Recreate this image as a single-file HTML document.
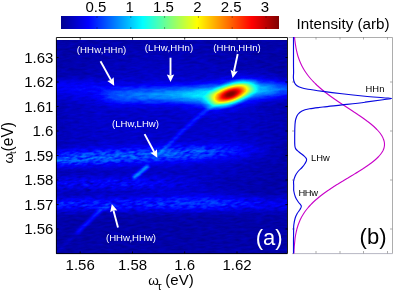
<!DOCTYPE html>
<html><head><meta charset="utf-8">
<style>
html,body{margin:0;padding:0;background:#fff;}
svg{display:block;font-family:"Liberation Sans",sans-serif;}
</style></head><body>
<svg width="394" height="296" viewBox="0 0 394 296">
<defs>
<filter id="jet" filterUnits="userSpaceOnUse" x="56" y="40" width="231" height="214" color-interpolation-filters="sRGB">
<feComponentTransfer>
<feFuncR type="table" tableValues="0 0 0 0 0.5 1 1 1 0.5"/>
<feFuncG type="table" tableValues="0 0 0.5 1 1 1 0.5 0 0"/>
<feFuncB type="table" tableValues="0.5 1 1 1 0.5 0 0 0 0"/>
</feComponentTransfer>
</filter>
<filter id="b1" x="-50%" y="-200%" width="200%" height="500%" color-interpolation-filters="sRGB"><feGaussianBlur stdDeviation="12 4"/></filter>
<filter id="b2" x="-50%" y="-200%" width="200%" height="500%" color-interpolation-filters="sRGB"><feGaussianBlur stdDeviation="20 6"/></filter>
<filter id="b3" x="-50%" y="-50%" width="200%" height="200%" color-interpolation-filters="sRGB"><feGaussianBlur stdDeviation="1.6"/></filter>
<filter id="b4" x="-50%" y="-50%" width="200%" height="200%" color-interpolation-filters="sRGB"><feGaussianBlur stdDeviation="25 18"/></filter>
<linearGradient id="gA" x1="20" x2="115" gradientUnits="userSpaceOnUse"><stop offset="0" stop-color="#fff" stop-opacity="0.085"/><stop offset="0.7" stop-color="#fff" stop-opacity="0.08"/><stop offset="1" stop-color="#fff" stop-opacity="0"/></linearGradient>
<linearGradient id="gB" x1="70" x2="330" gradientUnits="userSpaceOnUse"><stop offset="0.1" stop-color="#fff" stop-opacity="0.000"/><stop offset="0.16" stop-color="#fff" stop-opacity="0.157"/><stop offset="0.24" stop-color="#fff" stop-opacity="0.202"/><stop offset="0.33" stop-color="#fff" stop-opacity="0.235"/><stop offset="0.5" stop-color="#fff" stop-opacity="0.347"/><stop offset="0.58" stop-color="#fff" stop-opacity="0.347"/><stop offset="0.62" stop-color="#fff" stop-opacity="0.000"/></linearGradient>
<linearGradient id="gB2" x1="70" x2="330" gradientUnits="userSpaceOnUse"><stop offset="0.6" stop-color="#fff" stop-opacity="0"/><stop offset="0.66" stop-color="#fff" stop-opacity="0.3"/><stop offset="0.75" stop-color="#fff" stop-opacity="0.30"/><stop offset="0.84" stop-color="#fff" stop-opacity="0.2"/><stop offset="1" stop-color="#fff" stop-opacity="0.12"/></linearGradient>
<linearGradient id="gC" x1="20" x2="270" gradientUnits="userSpaceOnUse"><stop offset="0" stop-color="#fff" stop-opacity="0.238"/><stop offset="0.3" stop-color="#fff" stop-opacity="0.238"/><stop offset="0.5" stop-color="#fff" stop-opacity="0.196"/><stop offset="0.7" stop-color="#fff" stop-opacity="0.224"/><stop offset="0.85" stop-color="#fff" stop-opacity="0.098"/><stop offset="1" stop-color="#fff" stop-opacity="0.000"/></linearGradient>
<linearGradient id="gD" x1="20" x2="220" gradientUnits="userSpaceOnUse"><stop offset="0" stop-color="#fff" stop-opacity="0.154"/><stop offset="0.6" stop-color="#fff" stop-opacity="0.140"/><stop offset="1" stop-color="#fff" stop-opacity="0.000"/></linearGradient>
<linearGradient id="gE" x1="20" x2="320" gradientUnits="userSpaceOnUse"><stop offset="0" stop-color="#fff" stop-opacity="0.196"/><stop offset="0.6" stop-color="#fff" stop-opacity="0.168"/><stop offset="1" stop-color="#fff" stop-opacity="0.070"/></linearGradient>
<filter id="b6" x="-50%" y="-300%" width="200%" height="700%" color-interpolation-filters="sRGB"><feGaussianBlur stdDeviation="12 4.5"/></filter>
<filter id="nz2" filterUnits="userSpaceOnUse" x="-200" y="40" width="900" height="214" color-interpolation-filters="sRGB">
<feTurbulence type="fractalNoise" baseFrequency="0.12 0.45" numOctaves="2" seed="7" result="t"/>
<feColorMatrix in="t" type="matrix" values="1.6 0 0 0 -0.3  1.6 0 0 0 -0.3  1.6 0 0 0 -0.3  0 0 0 0 1"/>
</filter>
<filter id="nz3" filterUnits="userSpaceOnUse" x="-200" y="40" width="900" height="214" color-interpolation-filters="sRGB">
<feTurbulence type="fractalNoise" baseFrequency="0.16 0.4" numOctaves="2" seed="3" result="t"/>
<feColorMatrix in="t" type="matrix" values="2 0 0 0 -0.3  2 0 0 0 -0.3  2 0 0 0 -0.3  0 0 0 0 1"/>
</filter>
<mask id="tex" maskUnits="userSpaceOnUse" x="56" y="40" width="231" height="214"><g transform="skewX(-40)"><rect x="-200" y="40" width="900" height="214" filter="url(#nz3)"/></g></mask>
<filter id="b5" x="-50%" y="-200%" width="200%" height="500%" color-interpolation-filters="sRGB"><feGaussianBlur stdDeviation="6 4.9"/></filter>
<radialGradient id="hot">
<stop offset="0.00" stop-color="#fff" stop-opacity="1.000"/>
<stop offset="0.05" stop-color="#fff" stop-opacity="1.000"/>
<stop offset="0.10" stop-color="#fff" stop-opacity="0.991"/>
<stop offset="0.15" stop-color="#fff" stop-opacity="0.957"/>
<stop offset="0.20" stop-color="#fff" stop-opacity="0.910"/>
<stop offset="0.25" stop-color="#fff" stop-opacity="0.853"/>
<stop offset="0.30" stop-color="#fff" stop-opacity="0.787"/>
<stop offset="0.35" stop-color="#fff" stop-opacity="0.716"/>
<stop offset="0.40" stop-color="#fff" stop-opacity="0.641"/>
<stop offset="0.45" stop-color="#fff" stop-opacity="0.565"/>
<stop offset="0.50" stop-color="#fff" stop-opacity="0.489"/>
<stop offset="0.55" stop-color="#fff" stop-opacity="0.415"/>
<stop offset="0.60" stop-color="#fff" stop-opacity="0.346"/>
<stop offset="0.65" stop-color="#fff" stop-opacity="0.281"/>
<stop offset="0.70" stop-color="#fff" stop-opacity="0.222"/>
<stop offset="0.75" stop-color="#fff" stop-opacity="0.170"/>
<stop offset="0.80" stop-color="#fff" stop-opacity="0.124"/>
<stop offset="0.85" stop-color="#fff" stop-opacity="0.084"/>
<stop offset="0.90" stop-color="#fff" stop-opacity="0.051"/>
<stop offset="0.95" stop-color="#fff" stop-opacity="0.023"/>
<stop offset="1.00" stop-color="#fff" stop-opacity="0.000"/>
</radialGradient>
<linearGradient id="cb" x1="0" x2="1" y1="0" y2="0">
<stop offset="0" stop-color="#00008f"/>
<stop offset="0.125" stop-color="#0000ff"/>
<stop offset="0.375" stop-color="#00ffff"/>
<stop offset="0.625" stop-color="#ffff00"/>
<stop offset="0.875" stop-color="#ff0000"/>
<stop offset="1" stop-color="#800000"/>
</linearGradient>
</defs>
<rect width="394" height="296" fill="#fff"/>
<g opacity="0.999">

<!-- colorbar -->
<rect x="61" y="16" width="218" height="13" fill="url(#cb)"/>
<g stroke="#000" stroke-width="0.6" fill="none" opacity="0.6"><path d="M97.0 16v2M97.0 29v-2"/>
<path d="M130.8 16v2M130.8 29v-2"/>
<path d="M164.6 16v2M164.6 29v-2"/>
<path d="M198.4 16v2M198.4 29v-2"/>
<path d="M232.2 16v2M232.2 29v-2"/>
<path d="M266.0 16v2M266.0 29v-2"/></g>
<g font-size="15" fill="#000"><text x="95.9" y="12.4" text-anchor="middle">0.5</text>
<text x="129.7" y="12.4" text-anchor="middle">1</text>
<text x="163.5" y="12.4" text-anchor="middle">1.5</text>
<text x="197.3" y="12.4" text-anchor="middle">2</text>
<text x="231.1" y="12.4" text-anchor="middle">2.5</text>
<text x="264.9" y="12.4" text-anchor="middle">3</text></g>

<!-- heatmap -->
<g filter="url(#jet)">
<rect x="56" y="40" width="231" height="214" fill="rgb(6,6,6)"/>
<!-- broad glow -->
<ellipse cx="165" cy="125" rx="110" ry="70" fill="#fff" opacity="0.03" filter="url(#b4)"/>
<ellipse cx="180" cy="92" rx="120" ry="8" fill="#fff" opacity="0.05" filter="url(#b2)"/>
<!-- main band -->
<rect x="20" y="81" width="95" height="11" fill="url(#gA)" filter="url(#b1)"/>
<rect x="20" y="95" width="85" height="6" fill="url(#gA)" opacity="0.5" filter="url(#b1)"/>
<g transform="rotate(-1 160 95.4)"><rect x="70" y="90.2" width="260" height="10.4" fill="url(#gB)" filter="url(#b5)"/></g>
<g transform="rotate(-1 265 89.5)"><rect x="70" y="84.5" width="260" height="10" fill="url(#gB2)" filter="url(#b5)"/></g>
<!-- lower bands -->
<g transform="rotate(-2.6 150 155)"><rect x="20" y="147" width="240" height="16" fill="#fff" opacity="0.045" filter="url(#b2)"/></g>
<rect x="20" y="197" width="300" height="14" fill="#fff" opacity="0.03" filter="url(#b2)"/>
<g mask="url(#tex)">
<g transform="rotate(-2.6 150 155)"><rect x="20" y="150" width="250" height="10" fill="url(#gC)" filter="url(#b6)"/></g>
<rect x="20" y="179" width="200" height="9" fill="url(#gD)" filter="url(#b6)"/>
<rect x="20" y="200" width="300" height="8" fill="url(#gE)" filter="url(#b6)"/>
</g>
<ellipse cx="200" cy="200" rx="45" ry="8" fill="#fff" opacity="0.05" filter="url(#b2)"/>
<!-- diagonal -->
<g filter="url(#b3)" stroke="#fff" fill="none" stroke-linecap="round">
<path d="M57 252.5L100 211" stroke-width="2.5" opacity="0.035"/>
<path d="M78 232L100 210.5Q103 207.5 108 207" stroke-width="3" opacity="0.13"/>
<path d="M134 177.5L147.5 166.5" stroke-width="3" opacity="0.27"/>
<path d="M159 154L188 126Q205 110 221 101" stroke-width="3" opacity="0.13"/>
</g>
<g transform="skewX(-35)" opacity="0.045"><rect x="-200" y="40" width="900" height="214" filter="url(#nz2)"/></g>
<!-- hot spot -->
<g transform="translate(230 93.5) rotate(-14) scale(60 24)" opacity="0.12"><circle r="1" fill="url(#hot)"/></g>
<g transform="translate(230.6 94.1) rotate(-20) scale(32 13.6)"><circle r="1" fill="url(#hot)"/></g>
</g>

<!-- heatmap axes -->
<g stroke="#000" stroke-width="0.8" fill="none">
<path d="M56.4 253.6V37.5H287.5V253.6z" stroke-width="0.9"/>
<path d="M56 229.0h2.6M288 229.0h-2.6"/>
<path d="M56 204.5h2.6M288 204.5h-2.6"/>
<path d="M56 180.0h2.6M288 180.0h-2.6"/>
<path d="M56 155.5h2.6M288 155.5h-2.6"/>
<path d="M56 131.0h2.6M288 131.0h-2.6"/>
<path d="M56 106.5h2.6M288 106.5h-2.6"/>
<path d="M56 82.0h2.6M288 82.0h-2.6"/>
<path d="M56 57.5h2.6M288 57.5h-2.6"/>
<path d="M80.2 254v-2.6M80.2 37v2.6"/>
<path d="M132.5 254v-2.6M132.5 37v2.6"/>
<path d="M184.7 254v-2.6M184.7 37v2.6"/>
<path d="M237.0 254v-2.6M237.0 37v2.6"/>
</g>
<g font-size="15" fill="#000">
<text x="53.4" y="234.2" text-anchor="end">1.56</text>
<text x="53.4" y="209.7" text-anchor="end">1.57</text>
<text x="53.4" y="185.2" text-anchor="end">1.58</text>
<text x="53.4" y="160.7" text-anchor="end">1.59</text>
<text x="53.4" y="136.2" text-anchor="end">1.6</text>
<text x="53.4" y="111.7" text-anchor="end">1.61</text>
<text x="53.4" y="87.2" text-anchor="end">1.62</text>
<text x="53.4" y="62.7" text-anchor="end">1.63</text>
<text x="80.2" y="270.2" text-anchor="middle">1.56</text>
<text x="132.5" y="270.2" text-anchor="middle">1.58</text>
<text x="184.7" y="270.2" text-anchor="middle">1.6</text>
<text x="237.0" y="270.2" text-anchor="middle">1.62</text>
</g>
<text y="285.3" font-size="15"><tspan x="148.3" font-size="13.5">ω</tspan><tspan x="157.2" dy="5" font-size="11">τ</tspan><tspan x="165.3" dy="-5">(eV)</tspan></text>
<text transform="translate(12.6 163.6) rotate(-90)" font-size="15.6"><tspan x="0" font-size="13.5">ω</tspan><tspan x="9.6" dy="3.4" font-size="9.5">t</tspan><tspan x="12.2" dy="-3.4">(eV)</tspan></text>

<!-- annotations -->
<g font-size="9.6" fill="#fff" text-anchor="middle">
<text x="101.5" y="52.6" textLength="49.6">(HHw,HHn)</text>
<text x="169" y="50.7" textLength="48.6">(LHw,HHn)</text>
<text x="237" y="50.6">(HHn,HHn)</text>
<text x="135.5" y="127.2">(LHw,LHw)</text>
<text x="131" y="241">(HHw,HHw)</text>
</g>
<path d="M100.5 61.3L111.0 80.1" stroke="#fff" stroke-width="1.9" fill="none"/><path d="M114.2 85.7L107.3 80.9L111.0 80.1L113.7 77.3z" fill="#fff"/>
<path d="M170.5 57.7L170.5 75.5" stroke="#fff" stroke-width="1.9" fill="none"/><path d="M170.5 82.0L166.8 74.4L170.5 75.5L174.2 74.4z" fill="#fff"/>
<path d="M237.7 54.0L233.9 71.7" stroke="#fff" stroke-width="1.9" fill="none"/><path d="M232.6 78.0L230.6 69.8L233.9 71.7L237.8 71.3z" fill="#fff"/>
<path d="M144.6 134.1L154.2 152.0" stroke="#fff" stroke-width="1.9" fill="none"/><path d="M157.3 157.7L150.4 152.8L154.2 152.0L157.0 149.3z" fill="#fff"/>
<path d="M118.0 227.5L113.4 210.2" stroke="#fff" stroke-width="1.9" fill="none"/><path d="M111.8 204.0L117.3 210.4L113.4 210.2L110.2 212.3z" fill="#fff"/>
<text x="255.8" y="245.4" font-size="22" fill="#fff">(a)</text>

<!-- right panel -->
<g stroke="#8a8a8a" stroke-width="0.7" fill="none">
<path d="M288.5 37.5H392.5V253.5"/>
<path d="M292 253.6H392.5" stroke="#99a"/>
<path d="M316 37v2.5M316 253.5v-2.5"/>
<path d="M340 37v2.5M340 253.5v-2.5"/>
<path d="M363.5 37v2.5M363.5 253.5v-2.5"/>
<path d="M387.5 37v2.5M387.5 253.5v-2.5"/>
<path d="M292 229.0h2.5M392.5 229.0h-2.5"/>
<path d="M292 180.0h2.5M392.5 180.0h-2.5"/>
<path d="M292 131.0h2.5M392.5 131.0h-2.5"/>
<path d="M292 82.0h2.5M392.5 82.0h-2.5"/>
</g>
<path d="M294.6 37.0 C294.6 37.5 294.7 39.0 294.8 40.0 C295.0 41.0 295.1 42.0 295.2 43.0 C295.3 44.0 295.5 45.0 295.7 46.0 C295.8 47.0 296.0 48.0 296.2 49.0 C296.4 50.0 296.6 51.0 296.9 52.0 C297.1 53.0 297.4 54.0 297.6 55.0 C297.9 56.0 298.2 57.0 298.6 58.0 C298.9 59.0 299.3 60.0 299.7 61.0 C300.1 62.0 300.5 63.0 301.0 64.0 C301.4 65.0 301.9 66.0 302.5 67.0 C303.0 68.0 303.6 69.0 304.2 70.0 C304.8 71.0 305.5 72.0 306.2 73.0 C306.9 74.0 307.6 75.0 308.4 76.0 C309.2 77.0 310.0 78.0 310.9 79.0 C311.8 80.0 312.7 81.0 313.7 82.0 C314.6 83.0 315.7 84.0 316.7 85.0 C317.8 86.0 318.9 87.0 320.1 88.0 C321.2 89.0 322.4 90.0 323.7 91.0 C324.9 92.0 326.2 93.0 327.5 94.0 C328.8 95.0 330.2 96.0 331.6 97.0 C333.0 98.0 334.4 99.0 335.9 100.0 C337.3 101.0 338.8 102.0 340.3 103.0 C341.8 104.0 343.3 105.0 344.9 106.0 C346.4 107.0 347.9 108.0 349.5 109.0 C351.0 110.0 352.5 111.0 354.0 112.0 C355.6 113.0 357.1 114.0 358.5 115.0 C360.0 116.0 361.5 117.0 362.9 118.0 C364.3 119.0 365.7 120.0 367.0 121.0 C368.4 122.0 369.7 123.0 370.9 124.0 C372.1 125.0 373.3 126.0 374.4 127.0 C375.4 128.0 376.5 129.0 377.4 130.0 C378.3 131.0 379.2 132.0 380.0 133.0 C380.7 134.0 381.4 135.0 382.0 136.0 C382.6 137.0 383.1 138.0 383.4 139.0 C383.8 140.0 384.1 141.0 384.3 142.0 C384.5 143.0 384.5 144.0 384.5 145.0 C384.4 146.0 384.3 147.0 384.0 148.0 C383.7 149.0 383.3 150.0 382.8 151.0 C382.2 152.0 381.6 153.0 380.8 154.0 C380.0 155.0 379.2 156.0 378.2 157.0 C377.2 158.0 376.2 159.0 375.0 160.0 C373.8 161.0 372.6 162.0 371.3 163.0 C370.0 164.0 368.5 165.0 367.1 166.0 C365.7 167.0 364.1 168.0 362.6 169.0 C361.0 170.0 359.4 171.0 357.8 172.0 C356.2 173.0 354.5 174.0 352.9 175.0 C351.2 176.0 349.5 177.0 347.9 178.0 C346.2 179.0 344.5 180.0 342.9 181.0 C341.2 182.0 339.6 183.0 338.0 184.0 C336.3 185.0 334.8 186.0 333.2 187.0 C331.7 188.0 330.1 189.0 328.7 190.0 C327.2 191.0 325.8 192.0 324.4 193.0 C323.0 194.0 321.7 195.0 320.4 196.0 C319.2 197.0 317.9 198.0 316.8 199.0 C315.6 200.0 314.5 201.0 313.4 202.0 C312.4 203.0 311.4 204.0 310.5 205.0 C309.5 206.0 308.6 207.0 307.8 208.0 C307.0 209.0 306.2 210.0 305.4 211.0 C304.7 212.0 304.0 213.0 303.4 214.0 C302.8 215.0 302.2 216.0 301.6 217.0 C301.1 218.0 300.6 219.0 300.1 220.0 C299.7 221.0 299.3 222.0 298.9 223.0 C298.5 224.0 298.1 225.0 297.8 226.0 C297.5 227.0 297.2 228.0 296.9 229.0 C296.7 230.0 296.4 231.0 296.2 232.0 C296.0 233.0 295.8 234.0 295.6 235.0 C295.4 236.0 295.3 237.0 295.1 238.0 C295.0 239.0 294.9 240.0 294.8 241.0 C294.7 242.0 294.6 243.0 294.5 244.0 C294.4 245.0 294.3 246.0 294.2 247.0 C294.2 248.0 294.1 249.0 294.0 250.0 C294.0 251.0 294.0 252.4 293.9 253.0 C293.8 253.6 293.6 253.4 293.5 253.5" stroke="#c800c8" stroke-width="1.1" fill="none"/>
<path d="M293.5 37.0 C293.5 39.2 293.5 45.5 293.5 50.0 C293.5 54.5 293.5 60.3 293.5 64.0 C293.5 67.7 293.6 69.7 293.6 72.0 C293.6 74.3 293.3 76.2 293.4 78.0 C293.5 79.8 293.8 81.3 294.4 82.6 C295.0 83.9 295.8 84.9 297.0 85.8 C298.2 86.7 299.7 87.2 301.5 87.8 C303.3 88.4 304.4 88.6 308.0 89.2 C311.6 89.8 317.3 90.6 323.0 91.4 C328.7 92.2 335.0 93.0 342.0 93.8 C349.0 94.6 358.2 95.5 365.0 96.2 C371.8 96.9 378.6 97.3 383.0 97.7 C387.4 98.1 391.5 98.1 391.5 98.4 C391.5 98.7 387.4 99.1 383.0 99.7 C378.6 100.3 371.8 101.3 365.0 102.2 C358.2 103.1 349.0 104.1 342.0 104.9 C335.0 105.7 328.4 106.3 323.0 107.0 C317.6 107.7 313.1 108.1 309.6 108.8 C306.1 109.5 304.0 110.0 302.0 111.0 C300.0 112.0 298.8 113.2 297.8 114.5 C296.8 115.8 296.3 117.4 295.8 119.0 C295.3 120.6 295.2 121.5 295.0 124.3 C294.8 127.1 294.7 132.6 294.7 136.0 C294.7 139.4 294.6 142.9 294.8 145.0 C295.0 147.1 294.9 147.4 295.6 148.6 C296.3 149.8 297.7 150.8 299.0 152.0 C300.3 153.2 302.2 154.3 303.5 155.5 C304.8 156.7 306.4 158.0 306.6 159.3 C306.9 160.6 305.8 162.1 305.0 163.5 C304.2 164.9 303.2 166.2 302.0 167.5 C300.8 168.8 299.1 170.1 298.0 171.5 C296.9 172.9 295.9 174.4 295.2 176.0 C294.5 177.6 293.9 179.3 293.6 181.0 C293.4 182.7 293.7 184.3 293.7 186.0 C293.7 187.7 293.5 189.2 293.8 191.0 C294.1 192.8 294.6 195.2 295.4 197.0 C296.1 198.8 297.3 200.5 298.3 202.0 C299.3 203.5 301.0 204.8 301.3 206.0 C301.6 207.2 300.7 208.2 300.0 209.5 C299.3 210.8 298.0 212.1 297.2 213.5 C296.4 214.9 295.8 216.1 295.2 218.0 C294.6 219.9 294.1 222.7 293.8 225.0 C293.5 227.3 293.7 229.2 293.6 232.0 C293.6 234.8 293.5 238.4 293.5 242.0 C293.5 245.6 293.5 251.6 293.5 253.5" stroke="#0808e0" stroke-width="1.15" fill="none" stroke-linejoin="round"/>
<g font-size="9.4" fill="#000">
<text x="365.6" y="92.2">HHn</text>
<text x="311" y="160.8">LHw</text>
<text x="298.4" y="196.2" textLength="19.7">HHw</text>
</g>
<text x="359.6" y="243.8" font-size="22">(b)</text>
<text x="296.6" y="28.9" font-size="15.2" textLength="93">Intensity (arb)</text>
</g>
</svg>
</body></html>
